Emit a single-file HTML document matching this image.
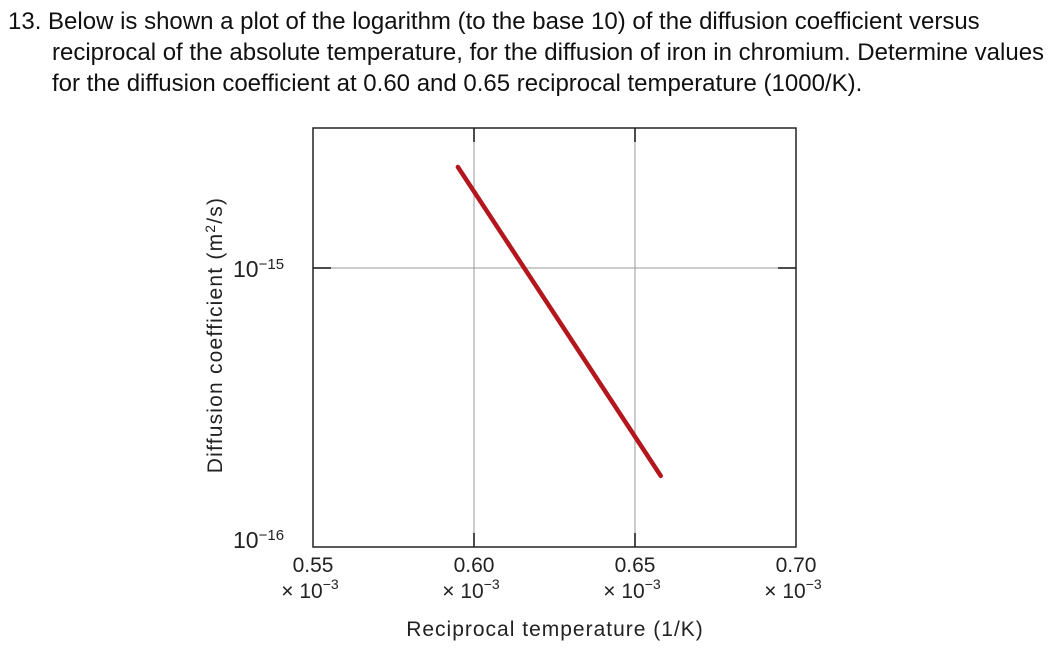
<!DOCTYPE html>
<html><head><meta charset="utf-8"><style>
body{margin:0;width:1064px;height:660px;background:#fff;overflow:hidden;font-family:"Liberation Sans",sans-serif;}
.q{position:absolute;left:0;top:0;font-size:24px;color:#111;line-height:31px;}
.q div{position:absolute;white-space:nowrap;}
</style></head><body>
<div class="q">
<div style="left:8px;top:6px">13. Below is shown a plot of the logarithm (to the base 10) of the diffusion coefficient versus</div>
<div style="left:52px;top:37px">reciprocal of the absolute temperature, for the diffusion of iron in chromium. Determine values</div>
<div style="left:52px;top:68px">for the diffusion coefficient at 0.60 and 0.65 reciprocal temperature (1000/K).</div>
</div>
<svg width="1064" height="660" style="position:absolute;left:0;top:0">
<g id="g"></g>
</svg>
<script>
const xTicks=[0.55,0.60,0.65,0.70];
const yTicks=[-16,-15];
const yTickLabels=["10","10"];
const yTickExps=["−16","−15"];
const lineX=[0.595,0.658];
const lineY=[-14.638,-15.745];
const L=313,R=796,T=128,B=547;
const sx=v=>L+(v-0.55)/0.15*(R-L);
const sy=v=>B-(v+16)*(B-268);
const g=document.getElementById('g');const NS='http://www.w3.org/2000/svg';
function mk(t,a,p){const e=document.createElementNS(NS,t);for(const k in a)e.setAttribute(k,a[k]);(p||g).appendChild(e);return e;}
xTicks.slice(1,3).forEach(v=>{
 const e=mk('line',{x1:sx(v),x2:sx(v),y1:T,y2:B,stroke:'#999','stroke-width':1});
 
 mk('line',{x1:sx(v),x2:sx(v),y1:T,y2:T+14,stroke:'#111','stroke-width':1.5});
 mk('line',{x1:sx(v),x2:sx(v),y1:B-14,y2:B,stroke:'#111','stroke-width':1.5});
});
yTicks.forEach(v=>{
 if(v>-16){
 const e=mk('line',{x1:L,x2:R,y1:sy(v),y2:sy(v),stroke:'#999','stroke-width':1});
 
 mk('line',{x1:L,x2:L+18,y1:sy(v),y2:sy(v),stroke:'#111','stroke-width':1.5});
 mk('line',{x1:R-18,x2:R,y1:sy(v),y2:sy(v),stroke:'#111','stroke-width':1.5});}
});
const fr=mk('rect',{x:L,y:T,width:R-L,height:B-T,fill:'none',stroke:'#222','stroke-width':1.5});

yTicks.forEach((v,i)=>{
 const t=mk('text',{x:233,y:sy(v)+(v==-16?1:9),'font-size':23,fill:'#222'});
 
 t.textContent=yTickLabels[i];
 const s=mk('tspan',{dy:-8,'font-size':15},t);s.textContent=yTickExps[i];
});
xTicks.forEach(v=>{
 const t=mk('text',{x:sx(v),y:572,'font-size':21,fill:'#222','text-anchor':'middle'});
 
 t.textContent=v.toFixed(2);
 const t2=mk('text',{x:sx(v)-3,y:598,'font-size':21,fill:'#222','text-anchor':'middle'});
 
 t2.textContent='× 10';
 const s=mk('tspan',{dy:-9,'font-size':14},t2);s.textContent='−3';
});
const xt=mk('text',{x:555,y:636,'font-size':21,fill:'#222','text-anchor':'middle','letter-spacing':1});

xt.textContent='Reciprocal temperature (1/K)';
const yt=mk('text',{x:0,y:0,'font-size':21,fill:'#222','text-anchor':'middle','letter-spacing':1.2,transform:'translate(222,335) rotate(-90)'});

yt.textContent='Diffusion coefficient (m';
const ys=mk('tspan',{dy:-7,'font-size':14},yt);ys.textContent='2';
const ys2=mk('tspan',{dy:7},yt);ys2.textContent='/s)';
const ln=mk('line',{x1:sx(lineX[0]),y1:sy(lineY[0]),x2:sx(lineX[1]),y2:sy(lineY[1]),stroke:'#b3161c','stroke-width':4.5,'stroke-linecap':'round'});

</script>
</body></html>
